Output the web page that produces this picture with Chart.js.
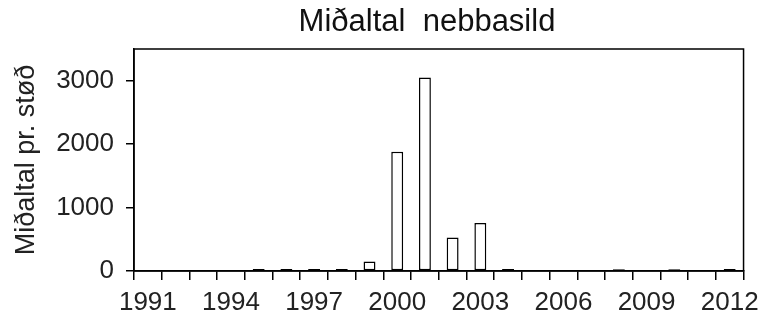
<!DOCTYPE html>
<html>
<head>
<meta charset="utf-8">
<script src="https://cdn.jsdelivr.net/npm/chart.js@4"></script>
<style>
html,body{margin:0;padding:0;background:#fff;}
#wrap{width:766px;height:317px;}
</style>
</head>
<body>
<div id="wrap"><canvas id="c" width="766" height="317"></canvas></div>
<script>
const TITLE = "Miðaltal  nebbasild";
const Y_TITLE = "Miðaltal pr. støð";
const years = ["1991","1992","1993","1994","1995","1996","1997","1998","1999","2000","2001","2002","2003","2004","2005","2006","2007","2008","2009","2010","2011","2012"];
const values = [0,0,0,0,30,30,30,30,150,1880,3050,530,755,30,0,0,0,28,0,28,0,30];
const yMax = 3500;
const yStep = 500;
const yLabelStep = 1000;
const xLabelEvery = 3;

const framePlugin = {
  id: 'frame',
  afterDraw(chart) {
    const a = chart.chartArea, ctx = chart.ctx;
    ctx.save();
    ctx.strokeStyle = '#000';
    ctx.lineWidth = 1.5;
    ctx.strokeRect(a.left, a.top, a.right - a.left, a.bottom - a.top);
    ctx.fillStyle = '#111';
    ctx.font = '31px "Liberation Sans", Arial, sans-serif';
    ctx.textAlign = 'center';
    ctx.textBaseline = 'middle';
    ctx.fillText(TITLE, 427, 22);
    ctx.restore();
  }
};

new Chart(document.getElementById('c'), {
  type: 'bar',
  data: {
    labels: years,
    datasets: [{
      data: values,
      backgroundColor: '#fff',
      borderColor: '#000',
      borderWidth: 1.5,
      borderSkipped: false,
      categoryPercentage: 1,
      barPercentage: 0.43
    }]
  },
  options: {
    responsive: false,
    animation: false,
    layout: { padding: { top: 49, right: 17, bottom: 0, left: 0 } },
    plugins: { legend: { display: false }, title: { display: false }, tooltip: { enabled: false } },
    scales: {
      x: {
        offset: true,
        grid: { offset: true, drawOnChartArea: false, drawTicks: true, tickLength: 9, color: '#000', lineWidth: 1.5 },
        border: { display: true, color: '#000', width: 1.5 },
        ticks: {
          autoSkip: false, maxRotation: 0, minRotation: 0, padding: 7,
          color: '#222',
          font: { family: '"Liberation Sans", Arial, sans-serif', size: 26 },
          callback: (v, i) => (i % xLabelEvery === 0 ? years[i] : '')
        },
        afterFit: (s) => { s.height = 46; }
      },
      y: {
        min: 0, max: yMax,
        grid: { drawOnChartArea: false, drawTicks: true, tickLength: 8, color: '#000', lineWidth: 1.5 },
        border: { display: true, color: '#000', width: 1.5 },
        ticks: {
          stepSize: yStep, padding: 12,
          color: '#222',
          font: { family: '"Liberation Sans", Arial, sans-serif', size: 26 },
          callback: (v) => (v % yLabelStep === 0 ? String(v) : '')
        },
        title: {
          display: true, text: Y_TITLE, color: '#222',
          font: { family: '"Liberation Sans", Arial, sans-serif', size: 27 },
          padding: { top: 10, bottom: 0 }
        },
        afterFit: (s) => { s.width = 134; }
      }
    }
  },
  plugins: [framePlugin]
});
</script>
</body>
</html>
